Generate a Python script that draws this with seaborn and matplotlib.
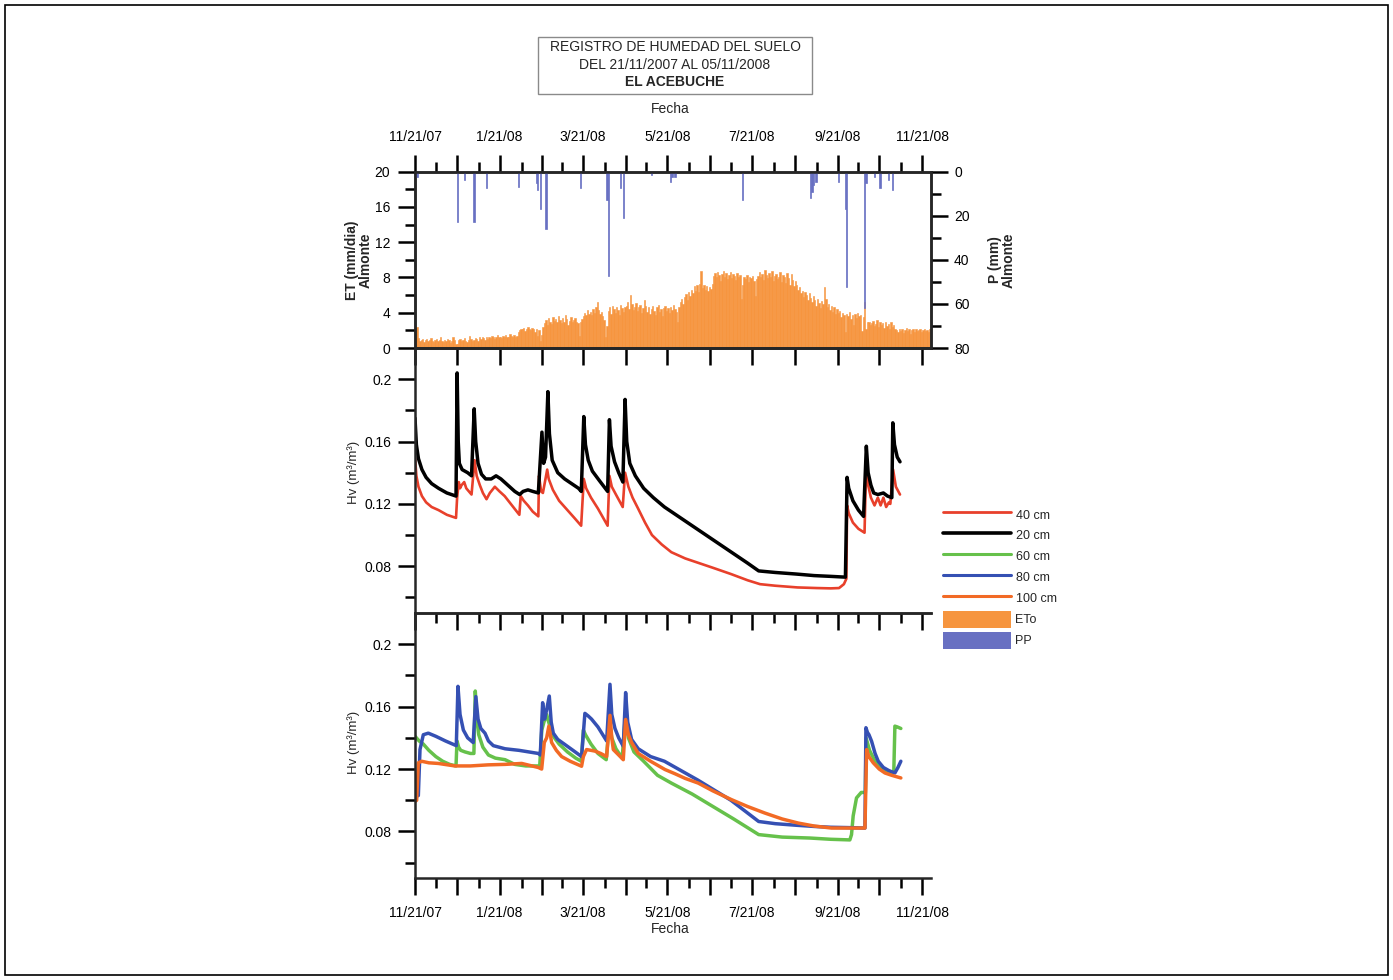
"""Registro de humedad del suelo - El Acebuche (21/11/2007 - 05/11/2008).

Tres paneles apilados: ETo diaria con precipitacion invertida, Hv a 20/40 cm y
Hv a 60/80/100 cm. Resultado en out.png
"""
import numpy as np
import pandas as pd
import matplotlib
matplotlib.use('Agg')
import matplotlib.pyplot as plt
import matplotlib.dates as mdates
from matplotlib.lines import Line2D
from matplotlib.patches import Patch, Rectangle
from matplotlib.ticker import MultipleLocator, FixedLocator, FuncFormatter
import seaborn as sns

START = pd.Timestamp('2007-11-21')
END_DAY = 372

# ETo diaria (mm/dia), un valor por dia desde 21/11/2007
eto = [
    1.3, 2.4, 1.1, 0.8, 0.9, 1.0, 0.7, 0.9, 1.0, 0.8, 0.9, 1.1, 0.8, 0.7, 0.9,
    1.0, 0.8, 0.9, 1.2, 0.8, 0.7, 0.9, 0.8, 1.0, 0.9, 0.6, 0.8, 1.3, 0.9, 0.4,
    0.5, 0.9, 1.0, 0.8, 0.9, 1.1, 0.8, 0.7, 0.9, 1.4, 1.0, 0.8, 0.9, 1.1, 1.0,
    0.8, 1.2, 1.0, 1.3, 1.1, 0.9, 1.2, 1.0, 1.3, 1.1, 1.4, 1.2, 1.0, 1.3, 1.5, 1.2,
    1.3, 1.1, 1.4, 1.2, 1.5, 1.3, 1.2, 1.6, 1.4, 1.3, 1.5, 1.2, 1.4, 1.8, 2.0,
    2.2, 2.1, 2.3, 1.9, 2.2, 2.4, 2.1, 2.0, 2.3, 2.2, 1.8, 2.2, 1.4, 2.0, 0.8, 1.5,
    2.4, 2.8, 3.2, 2.6, 3.4, 3.0, 2.7, 3.5, 3.1, 3.3, 2.9, 3.6, 3.2, 2.8, 3.4,
    3.0, 3.7, 3.3, 2.6, 3.1, 3.5, 2.9, 3.2, 3.4, 3.0, 2.8, 1.4, 2.9, 3.3,
    3.6, 4.0, 3.8, 4.3, 3.9, 4.1, 3.7, 4.4, 4.0, 4.6, 5.2, 4.3, 3.9, 4.1, 3.6,
    3.2, 1.3, 2.5, 4.2, 4.6, 3.9, 4.8, 4.4, 4.0, 4.7, 4.3, 3.8, 4.9, 4.5, 4.1, 4.6,
    4.8, 5.2, 4.4, 6.0, 5.0, 4.3, 4.7, 5.1, 4.2, 4.6, 4.9, 4.0, 4.5, 5.4, 4.8,
    4.1, 4.6, 3.9, 4.4, 4.8, 4.2, 3.8, 4.6, 4.9, 4.1, 4.4, 3.6, 4.5, 4.8, 4.2,
    4.5, 4.0, 4.7, 4.3, 4.9, 4.4, 4.1, 2.9, 4.6, 5.2, 5.6, 5.0, 5.8, 6.1, 5.4,
    6.3, 5.9, 6.6, 6.2, 7.0, 6.5, 7.1, 6.4, 7.3, 8.7, 6.8, 7.2, 6.6, 7.0, 6.5, 6.9,
    6.7, 7.3, 8.2, 8.5, 8.0, 8.6, 8.3, 7.6, 8.4, 8.7, 8.1, 8.5, 7.8, 8.3, 8.6,
    7.9, 8.4, 8.2, 7.7, 8.5, 8.0, 8.3, 5.6, 7.2, 8.1, 7.8, 8.3, 7.5, 8.0, 7.9, 8.2,
    7.6, 5.9, 7.8, 8.2, 8.6, 8.1, 8.4, 7.7, 8.8, 8.3, 7.9, 8.5, 8.0, 8.7, 7.6,
    8.2, 8.4, 7.8, 8.1, 8.6, 7.5, 8.3, 8.0, 7.4, 8.5, 7.9, 7.2, 8.4, 7.7, 7.0, 7.6,
    7.1, 6.6, 6.9, 6.2, 6.5, 5.8, 6.4, 6.0, 5.5, 6.2, 5.7, 5.2, 5.9, 5.4, 4.8,
    5.6, 5.1, 4.5, 5.3, 5.0, 6.9, 5.6, 4.6, 5.0, 4.3, 4.8, 4.1, 4.6, 3.9, 4.4, 4.0,
    4.2, 3.5, 4.0, 3.7, 1.8, 3.9, 3.6, 4.1, 3.3, 3.8, 2.6, 3.9, 3.4, 4.0, 3.6,
    3.8, 1.9, 3.5, 5.2, 2.2, 2.9, 3.0, 2.6, 2.8, 3.1, 2.5, 2.7, 3.2, 2.4, 2.9,
    2.6, 2.8, 2.3, 3.0, 2.5, 2.7, 2.1, 2.9, 2.4, 2.6, 2.2, 2.0, 1.8, 2.1, 1.9,
    2.2, 1.7, 2.0, 2.3, 1.9, 2.1, 1.6, 2.0, 2.2, 1.8, 2.1, 1.9, 2.0, 2.2, 1.8, 2.0,
    2.1, 1.9, 2.0, 1.8, 2.1, 1.7,
]

# precipitacion (mm): dia desde el inicio y cantidad
pp_days = [1, 30, 35, 42, 51, 74, 87, 88, 90, 94, 119, 138, 139, 148, 150, 170,
           184, 185, 187, 236, 285, 286, 287, 289, 305, 310, 311, 324, 325, 331,
           335, 341, 344]
pp_mm = [2.3, 23, 3.8, 22.8, 7.6, 6.8, 5, 8.3, 16.7, 26, 7.3, 12.9, 47.3, 7.6,
         20.9, 1.5, 4.5, 2.3, 2.3, 12.9, 12.1, 9, 6, 4.5, 4.5, 17, 52.3, 62, 5.3,
         2.3, 7.6, 3.8, 8.3]

# humedad volumetrica 20 cm
d20 = [0, 1, 2.5, 5, 8, 12, 17, 23, 29.6, 30.4, 31.2, 32, 34, 38, 40.8, 42.7,
       43.8, 45.5, 48, 51, 55, 58.5, 62, 67, 72, 75.5, 78, 81.5, 85, 89, 91.6,
       92.8, 94.2, 95.9, 97, 99, 103, 108, 113, 118, 120, 121.8, 123, 125, 128,
       133, 139, 140.3, 141.5, 144, 147, 150, 151.6, 152.8, 155, 159, 165, 172,
       180, 190, 200, 210, 220, 230, 240, 248, 260, 275, 288, 300, 310.6, 311.8,
       313, 316, 320, 323.7, 325.7, 327, 329, 331, 334, 338, 341, 344.1, 344.8,
       346, 348, 350]
v20 = [0.175, 0.158, 0.149, 0.142, 0.137, 0.133, 0.130, 0.127, 0.125, 0.204,
       0.160, 0.146, 0.142, 0.140, 0.138, 0.181, 0.160, 0.146, 0.139, 0.136,
       0.136, 0.138, 0.136, 0.132, 0.128, 0.126, 0.128, 0.129, 0.128, 0.127,
       0.166, 0.146, 0.150, 0.192, 0.165, 0.148, 0.140, 0.136, 0.133, 0.130,
       0.128, 0.176, 0.158, 0.148, 0.141, 0.135, 0.128, 0.174, 0.157, 0.147,
       0.140, 0.134, 0.187, 0.160, 0.146, 0.138, 0.130, 0.124, 0.118, 0.112,
       0.106, 0.100, 0.094, 0.088, 0.082, 0.077, 0.076, 0.075, 0.074, 0.0735,
       0.073, 0.137, 0.130, 0.122, 0.116, 0.112, 0.157, 0.140, 0.132, 0.127,
       0.126, 0.127, 0.125, 0.124, 0.172, 0.158, 0.150, 0.147]

# 40 cm
d40 = [0, 1, 2.5, 5, 8, 12, 17, 23, 29.6, 30.4, 31.6, 32.5, 33.6, 35.5, 37,
       40.8, 43, 44.5, 46.8, 49, 51.6, 54, 57.6, 61, 64.7, 70, 75.3, 76.3, 78.5,
       81.5, 85, 89, 89.5, 91, 92.3, 95.4, 96.5, 99.5, 104, 110, 115, 119.9,
       121.8, 123.5, 127, 132, 139, 140.3, 142, 145, 149.9, 151.6, 154, 157, 161,
       166, 171, 178, 185, 195, 205, 215, 228, 240, 249, 260, 276, 290, 300, 306,
       309.5, 311.3, 311.8, 313, 316, 320, 324.4, 325.6, 327, 329, 331.6, 334,
       336, 338, 340, 342, 343, 345, 347, 350]
v40 = [0.150, 0.138, 0.131, 0.125, 0.121, 0.118, 0.116, 0.113, 0.111, 0.124,
       0.134, 0.130, 0.132, 0.134, 0.130, 0.126, 0.148, 0.138, 0.132, 0.127,
       0.123, 0.127, 0.131, 0.128, 0.125, 0.119, 0.113, 0.125, 0.122, 0.119,
       0.115, 0.112, 0.138, 0.128, 0.127, 0.142, 0.136, 0.129, 0.122, 0.116,
       0.111, 0.106, 0.136, 0.130, 0.124, 0.117, 0.106, 0.138, 0.131, 0.126,
       0.118, 0.140, 0.131, 0.124, 0.117, 0.108, 0.100, 0.094, 0.089, 0.085,
       0.082, 0.079, 0.075, 0.071, 0.0685, 0.0675, 0.0664, 0.066, 0.0658, 0.066,
       0.0685, 0.072, 0.119, 0.114, 0.108, 0.104, 0.1015, 0.148, 0.132, 0.124,
       0.119, 0.124, 0.119, 0.124, 0.118, 0.121, 0.120, 0.142, 0.131, 0.126]

# 60 cm
d60 = [0, 1, 3, 6, 10, 15, 20, 25, 29.6, 30.3, 31.5, 33, 36, 40, 42.5, 43.5,
       44.5, 46, 49, 53, 58, 65, 72, 80, 86, 90, 91.5, 93, 95, 96.5, 99, 104, 110,
       116, 120, 121.5, 123, 127, 132, 138, 140.3, 142, 145, 149.5, 151.6, 154,
       158, 165, 175, 185, 200, 215, 230, 248, 265, 285, 300, 313.8, 315, 316.2,
       318.6, 322, 325, 325.5, 328, 332, 336, 340, 344, 345.5, 346.3, 348, 350.6]
v60 = [0.141, 0.140, 0.138, 0.136, 0.132, 0.128, 0.125, 0.123, 0.122, 0.138,
       0.134, 0.132, 0.131, 0.130, 0.130, 0.170, 0.155, 0.142, 0.134, 0.129,
       0.127, 0.126, 0.123, 0.122, 0.122, 0.122, 0.145, 0.150, 0.155, 0.150,
       0.142, 0.136, 0.131, 0.127, 0.125, 0.145, 0.142, 0.136, 0.130, 0.126,
       0.150, 0.140, 0.133, 0.127, 0.152, 0.140, 0.131, 0.125, 0.116, 0.111,
       0.104, 0.096, 0.088, 0.078, 0.0764, 0.0758, 0.075, 0.0746, 0.078, 0.090,
       0.1015, 0.105, 0.105, 0.140, 0.132, 0.125, 0.121, 0.119, 0.117, 0.118,
       0.1475, 0.147, 0.146]

# 80 cm
d80 = [0, 2.4, 3.6, 6, 9.6, 15, 22, 29.8, 31.0, 32.5, 34.9, 38, 42, 43.9, 45.5,
       47.5, 50.5, 53, 56.5, 65, 75, 89, 90.4, 92.1, 93.5, 95, 96.9, 98.3, 99.8,
       103, 108.2, 114, 120.2, 122.6, 125, 127.4, 132, 138.3, 140.7, 142, 144.3,
       147, 150.3, 152, 153.5, 156.3, 161.1, 170, 180, 190, 204, 228, 248, 260,
       275, 288.6, 300, 312, 324.7, 325.4, 326.5, 327.6, 329.5, 332, 334.3, 338,
       342, 346.3, 348.5, 350.6]
v80 = [0.1025, 0.103, 0.1325, 0.142, 0.143, 0.141, 0.138, 0.135, 0.173, 0.155,
       0.145, 0.140, 0.137, 0.1664, 0.152, 0.146, 0.143, 0.138, 0.135, 0.133,
       0.132, 0.130, 0.129, 0.1625, 0.152, 0.158, 0.1668, 0.150, 0.143, 0.139,
       0.1357, 0.132, 0.128, 0.1557, 0.154, 0.152, 0.147, 0.138, 0.1743, 0.155,
       0.146, 0.140, 0.1346, 0.169, 0.150, 0.139, 0.133, 0.128, 0.125, 0.120,
       0.113, 0.100, 0.0864, 0.085, 0.084, 0.0832, 0.0827, 0.0825, 0.0822, 0.1465,
       0.1435, 0.142, 0.1378, 0.130, 0.125, 0.121, 0.119, 0.1175, 0.121, 0.125]

# 100 cm
d100 = [0, 1.2, 2.4, 4.8, 10, 16.8, 28.8, 40, 52.9, 65, 77, 89, 91.4, 93.3, 95,
        96.6, 98.6, 102, 105.8, 112, 120.2, 121.5, 123.8, 127, 129.9, 134, 138.3,
        140.7, 142, 143.1, 147, 150.3, 152, 154, 156.3, 161.1, 170, 180.4, 187.6,
        195, 204.4, 215, 228.4, 240, 252.5, 265, 276.5, 288, 300.5, 312, 324.7,
        325.9, 327.5, 330.7, 335, 339.1, 344, 350.6]
v100 = [0.0993, 0.100, 0.124, 0.125, 0.124, 0.1236, 0.122, 0.122, 0.1227, 0.123,
        0.1236, 0.121, 0.120, 0.137, 0.140, 0.1475, 0.137, 0.132, 0.128, 0.125,
        0.1218, 0.128, 0.1325, 0.132, 0.1315, 0.130, 0.128, 0.1544, 0.140, 0.1325,
        0.129, 0.126, 0.1518, 0.142, 0.137, 0.130, 0.125, 0.1197, 0.117, 0.114,
        0.111, 0.106, 0.1004, 0.096, 0.0918, 0.088, 0.0854, 0.0835, 0.0822, 0.0822,
        0.0822, 0.1325, 0.128, 0.124, 0.120, 0.1175, 0.116, 0.1143]

C_40 = '#e8402b'
C_20 = '#000000'
C_60 = '#66c14b'
C_80 = '#3550b3'
C_100 = '#f26a25'
C_ETO = '#f6953f'
C_PP = '#6870c2'

W, H = 1393, 980


def to_dates(days):
    return START + pd.to_timedelta(np.asarray(days, dtype=float), unit='D')


def fx(px):
    return px / W


def fy(py):
    return 1 - py / H


def date_label(v, pos):
    d = mdates.num2date(v)
    return f'{d.month}/{d.day}/{d:%y}' if d.month % 2 == 1 else ''


def setup_x(ax):
    ax.set_xlim(START, START + pd.Timedelta(days=END_DAY))
    ax.xaxis.set_major_locator(mdates.MonthLocator(bymonthday=21))
    ax.xaxis.set_minor_locator(mdates.MonthLocator(bymonthday=6))
    ax.xaxis.set_major_formatter(FuncFormatter(date_label))
    ax.set_xlabel('')
    ax.set_ylabel('')
    ax.patch.set_visible(False)


def main():
    sns.set_theme(style='ticks')
    plt.rcParams['font.family'] = ['Liberation Sans', 'DejaVu Sans']
    plt.rcParams['axes.linewidth'] = 1.8
    for a in ('x', 'y'):
        plt.rcParams[f'{a}tick.major.size'] = 12
        plt.rcParams[f'{a}tick.minor.size'] = 7
        plt.rcParams[f'{a}tick.major.width'] = 1.8
        plt.rcParams[f'{a}tick.minor.width'] = 1.8
        plt.rcParams[f'{a}tick.labelsize'] = 10
        plt.rcParams[f'{a}tick.color'] = 'black'

    fig = plt.figure(figsize=(W / 100, H / 100), dpi=100)
    left, width = fx(415), fx(930.5) - fx(415)
    ax_top = fig.add_axes([left, fy(348), width, (348 - 171.7) / H])
    ax_mid = fig.add_axes([left, fy(613), width, (613 - 348) / H])
    ax_bot = fig.add_axes([left, fy(878.3), width, (878.3 - 613) / H])

    # panel superior: ETo y precipitacion
    eto_dates = pd.date_range(START, periods=len(eto), freq='D')
    ax_top.bar(eto_dates, eto, width=1.0, align='edge', color=C_ETO,
               edgecolor=C_ETO, linewidth=0.4)
    ax_pp = ax_top.twinx()
    ax_pp.bar(to_dates(pp_days), pp_mm, width=1.0, align='edge', color=C_PP,
              edgecolor=C_PP, linewidth=0.5)
    setup_x(ax_top)
    ax_top.set_ylim(0, 20)
    ax_top.yaxis.set_major_locator(MultipleLocator(4))
    ax_top.yaxis.set_minor_locator(MultipleLocator(2))
    ax_pp.set_ylim(80, 0)
    ax_pp.yaxis.set_major_locator(MultipleLocator(20))
    ax_pp.yaxis.set_minor_locator(MultipleLocator(10))
    ax_pp.set_ylabel('')
    ax_top.tick_params(axis='x', which='both', direction='out', top=True,
                       bottom=False, labeltop=True, labelbottom=False, pad=8)
    ax_top.tick_params(axis='x', which='major', bottom=True)
    ax_top.tick_params(axis='y', which='both', direction='out', left=True,
                       right=False, pad=6)
    ax_pp.tick_params(axis='y', which='both', direction='out', right=True,
                      left=False, pad=5)

    # panel medio: 20 y 40 cm
    sns.lineplot(x=to_dates(d40), y=v40, ax=ax_mid, color=C_40, linewidth=1.9,
                 estimator=None, sort=False)
    sns.lineplot(x=to_dates(d20), y=v20, ax=ax_mid, color=C_20, linewidth=2.5,
                 estimator=None, sort=False)

    # panel inferior: 60, 80 y 100 cm
    sns.lineplot(x=to_dates(d60), y=v60, ax=ax_bot, color=C_60, linewidth=2.5,
                 estimator=None, sort=False)
    sns.lineplot(x=to_dates(d80), y=v80, ax=ax_bot, color=C_80, linewidth=2.5,
                 estimator=None, sort=False)
    sns.lineplot(x=to_dates(d100), y=v100, ax=ax_bot, color=C_100, linewidth=2.5,
                 estimator=None, sort=False)

    hv_fmt = FuncFormatter(lambda v, p: f'{v:g}')
    for ax in (ax_mid, ax_bot):
        setup_x(ax)
        ax.set_ylim(0.05, 0.22)
        ax.yaxis.set_major_locator(FixedLocator([0.08, 0.12, 0.16, 0.2]))
        ax.yaxis.set_minor_locator(FixedLocator([0.06, 0.10, 0.14, 0.18]))
        ax.yaxis.set_major_formatter(hv_fmt)
        ax.spines['right'].set_visible(False)
        ax.tick_params(axis='y', which='both', direction='out', left=True,
                       right=False, pad=5)
        ax.tick_params(axis='x', which='both', direction='out', top=False,
                       bottom=True, pad=8)
    ax_mid.tick_params(axis='x', which='both', labelbottom=False)
    ax_bot.tick_params(axis='x', which='both', labelbottom=True)

    # etiquetas de ejes
    fig.text(fx(359), fy(260), 'ET (mm/dia)\nAlmonte', rotation=90, ha='center',
             va='center', fontsize=10, fontweight='bold', linespacing=1.0)
    fig.text(fx(1002), fy(260), 'P (mm)\nAlmonte', rotation=90, ha='center',
             va='center', fontsize=10, fontweight='bold', linespacing=1.0)
    fig.text(fx(354), fy(472), 'Hv (m³/m³)', rotation=90, ha='center',
             va='center', fontsize=9.5)
    fig.text(fx(354), fy(742), 'Hv (m³/m³)', rotation=90, ha='center',
             va='center', fontsize=9.5)
    fig.text(fx(670), fy(109), 'Fecha', ha='center', va='center', fontsize=10)
    fig.text(fx(670), fy(929), 'Fecha', ha='center', va='center', fontsize=10)

    # titulo en recuadro
    fig.patches.append(Rectangle((fx(538), fy(94)), fx(812) - fx(538),
                                 (94 - 37) / H, transform=fig.transFigure,
                                 fill=False, edgecolor='#8a8a8a', linewidth=1))
    fig.text(fx(675), fy(47), 'REGISTRO DE HUMEDAD DEL SUELO', ha='center',
             va='center', fontsize=10)
    fig.text(fx(675), fy(65), 'DEL 21/11/2007 AL 05/11/2008', ha='center',
             va='center', fontsize=10)
    fig.text(fx(675), fy(82), 'EL ACEBUCHE', ha='center', va='center',
             fontsize=10, fontweight='bold')

    # marco de pagina
    fig.patches.append(Rectangle((fx(5), fy(975)), fx(1388) - fx(5),
                                 (975 - 5) / H, transform=fig.transFigure,
                                 fill=False, edgecolor='black', linewidth=1.2))

    handles = [
        Line2D([], [], color=C_40, linewidth=2.0, label='40 cm'),
        Line2D([], [], color=C_20, linewidth=2.6, label='20 cm'),
        Line2D([], [], color=C_60, linewidth=2.2, label='60 cm'),
        Line2D([], [], color=C_80, linewidth=2.2, label='80 cm'),
        Line2D([], [], color=C_100, linewidth=2.2, label='100 cm'),
        Patch(facecolor=C_ETO, edgecolor='none', label='ETo'),
        Patch(facecolor=C_PP, edgecolor='none', label='PP'),
    ]
    fig.legend(handles=handles, loc='upper left',
               bbox_to_anchor=(fx(943), fy(506)), frameon=False,
               handlelength=5.4, handleheight=1.71, labelspacing=0.32,
               handletextpad=0.4, borderpad=0, borderaxespad=0,
               prop={'size': 9})

    fig.savefig('out.png', dpi=100)


if __name__ == '__main__':
    main()
